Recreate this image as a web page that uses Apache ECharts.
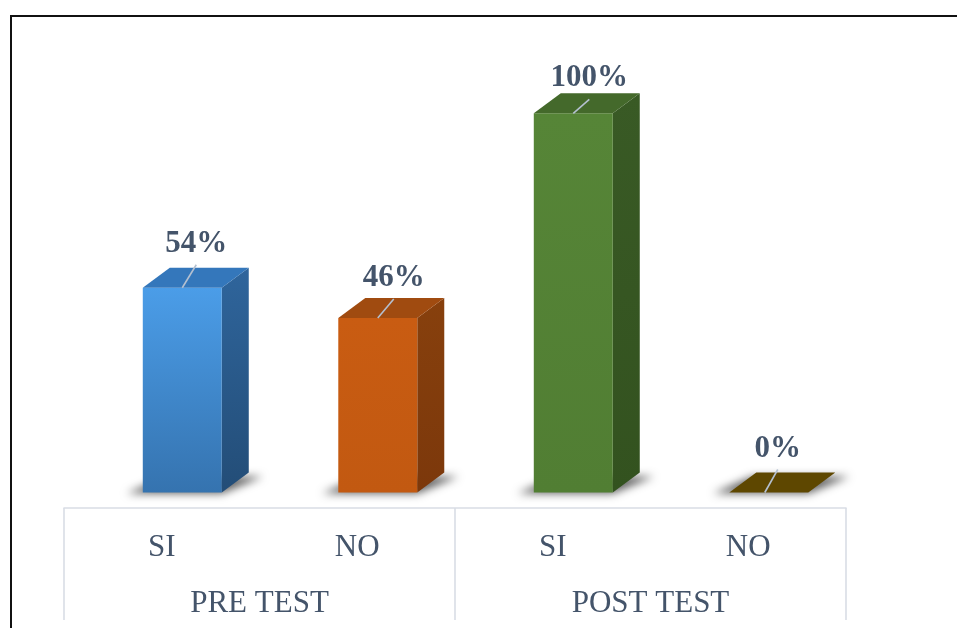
<!DOCTYPE html>
<html>
<head>
<meta charset="utf-8">
<title>Pre test / Post test</title>
<script src="https://cdn.jsdelivr.net/npm/echarts@6/dist/echarts.min.js"></script>
<style>
  html, body { margin: 0; padding: 0; background: #ffffff; }
  #chart { width: 957px; height: 628px; }
</style>
</head>
<body>
<div id="chart"></div>
<script>
// Category labels, group labels and percentages
const categories = ['SI', 'NO', 'SI', 'NO'];
const groups = ['PRE TEST', 'POST TEST'];
const values = [54, 46, 100, 0];

// Face colours for each column: front (top, bottom), side (top, bottom), top face
const palettes = [
  { front: ['#4b9de8', '#3573af'], side: ['#2f659c', '#234d77'], top: '#3477bb' },
  { front: ['#c95c12', '#c25911'], side: ['#87400d', '#7c380b'], top: '#a04b10' },
  { front: ['#568537', '#517e33'], side: ['#395a25', '#33521f'], top: '#44692b' },
  { front: ['#5f4700', '#5f4700'], side: ['#4a3700', '#4a3700'], top: '#5e4700' }
];
// Label placement relative to the front top edge: [dx, lift]
const labelPlace = [[14, 44], [16, 40], [16, 35], [9, 44]];

const textColor = '#44546a';
const serif = '"Liberation Serif", "Times New Roman", serif';

const chart = echarts.init(document.getElementById('chart'));

function renderColumn(params, api) {
  const idx = api.value(0);
  const val = api.value(1);
  const topPt = api.coord([idx, val]);
  const basePt = api.coord([idx, 0]);
  const band = api.size([1, 0])[0];
  const w = band * 0.404;
  const cx = topPt[0] + band * 0.105;
  const x0 = cx - w / 2, x1 = cx + w / 2;
  const yt = topPt[1], yb = basePt[1];
  const dx = 27, dy = -20;
  const p = palettes[idx];
  const children = [];

  // soft floor shadow (drawn off-canvas, only its shadow lands under the column)
  const far = 3000;
  children.push({
    type: 'polygon',
    shape: { points: [[x0 - 16, yb + far], [x1, yb + far], [x1 + dx + 14, yb + dy + 3 + far], [x0 + dx - 4, yb + dy + 3 + far]] },
    style: { fill: '#000', shadowBlur: 8, shadowColor: 'rgba(0,0,0,0.62)', shadowOffsetX: 0, shadowOffsetY: -far + 1 },
    silent: true
  });

  if (yb - yt > 0.5) {
    // side face
    children.push({
      type: 'polygon',
      shape: { points: [[x1, yt], [x1 + dx, yt + dy], [x1 + dx, yb + dy], [x1, yb]] },
      style: { fill: new echarts.graphic.LinearGradient(0, 0, 0, 1, [
        { offset: 0, color: p.side[0] }, { offset: 1, color: p.side[1] }]) }
    });
    // front face
    children.push({
      type: 'rect',
      shape: { x: x0, y: yt, width: w, height: yb - yt },
      style: { fill: new echarts.graphic.LinearGradient(0, 0, 0, 1, [
        { offset: 0, color: p.front[0] }, { offset: 1, color: p.front[1] }]) }
    });
  }
  // top face
  children.push({
    type: 'polygon',
    shape: { points: [[x0, yt], [x1, yt], [x1 + dx, yt + dy], [x0 + dx, yt + dy]] },
    style: { fill: p.top }
  });

  // data label with leader line
  const lp = labelPlace[idx];
  const lx = cx + lp[0];
  const ly = yt - lp[1];
  children.push({
    type: 'line',
    shape: { x1: cx - (idx === 3 ? 4 : 0), y1: yt, x2: lx, y2: ly + 21 },
    style: { stroke: '#b4c0d0', lineWidth: 1.6 }
  });
  children.push({
    type: 'text',
    style: {
      text: val + '%', x: lx, y: ly,
      align: 'center', verticalAlign: 'middle',
      font: 'bold 31px ' + serif, fill: textColor
    }
  });
  return { type: 'group', children: children };
}

chart.setOption({
  backgroundColor: '#ffffff',
  animation: false,
  grid: { left: 64, right: 111, top: 113.3, bottom: 135.5 },
  xAxis: [
    {
      type: 'category', data: categories, position: 'bottom', offset: 15.5,
      axisLine: { show: false }, axisTick: { show: false },
      axisLabel: { margin: 24, fontFamily: serif, fontSize: 31, color: textColor }
    },
    {
      type: 'category', data: groups, position: 'bottom', offset: 15.5,
      axisLine: { show: true, lineStyle: { color: '#d9dde5', width: 1.6 } },
      axisTick: { show: true, length: 112, lineStyle: { color: '#d9dde5', width: 1.6 } },
      axisLabel: { margin: 80, fontFamily: serif, fontSize: 31, color: textColor }
    }
  ],
  yAxis: { type: 'value', min: 0, max: 100, show: false },
  graphic: [{
    type: 'rect', silent: true, z: 100,
    shape: { x: 11, y: 16, width: 1000, height: 700 },
    style: { fill: 'none', stroke: '#111111', lineWidth: 2 }
  }],
  series: [{
    type: 'custom',
    xAxisIndex: 0,
    renderItem: renderColumn,
    data: values.map((v, i) => [i, v]),
    clip: false
  }]
});
</script>
</body>
</html>
